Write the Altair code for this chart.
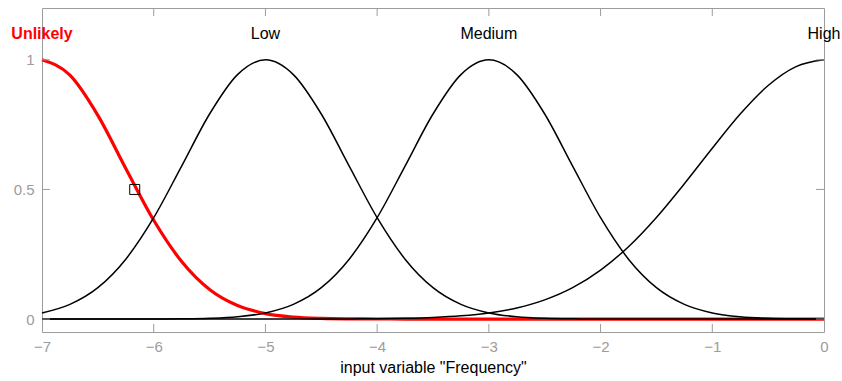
import altair as alt
import pandas as pd

# x positions (input variable "Frequency")
xs = [-7.0, -6.75, -6.5, -6.25, -6.0, -5.75, -5.5, -5.25, -5.0, -4.75, -4.5, -4.25,
      -4.0, -3.75, -3.5, -3.25, -3.0, -2.75, -2.5, -2.25, -2.0, -1.75, -1.5, -1.25,
      -1.0, -0.75, -0.5, -0.25, 0.0]

# membership values
unlikely = [1.0, 0.941, 0.786, 0.581, 0.381, 0.222, 0.114, 0.052, 0.0211, 0.0076,
            0.0024, 0.0007, 0.0002, 0.00004, 0, 0, 0, 0, 0, 0, 0, 0, 0, 0, 0, 0, 0, 0, 0]
low = [0.0235, 0.0565, 0.121, 0.231, 0.391, 0.590, 0.791, 0.943, 1.0, 0.943, 0.791,
       0.590, 0.391, 0.231, 0.121, 0.0565, 0.0235, 0.0087, 0.0028, 0.0008, 0.0002,
       0, 0, 0, 0, 0, 0, 0, 0]
medium = [0, 0, 0, 0, 0.0002, 0.0008, 0.0028, 0.0087, 0.0235, 0.0565, 0.121, 0.231,
          0.391, 0.590, 0.791, 0.943, 1.0, 0.943, 0.791, 0.590, 0.391, 0.231, 0.121,
          0.0565, 0.0235, 0.0087, 0.0028, 0.0008, 0.0002]
high = [0, 0, 0, 0, 0, 0, 0, 0.00001, 0.00003, 0.00008, 0.00022, 0.00054, 0.00127,
        0.00285, 0.00607, 0.0123, 0.0235, 0.0428, 0.074, 0.121, 0.189, 0.279, 0.392,
        0.522, 0.659, 0.791, 0.901, 0.974, 1.0]

label_names = ["Unlikely", "Low", "Medium", "High"]
label_x = [-7, -5, -3, 0]
label_colors = ["red", "black", "black", "black"]
label_weights = ["bold", "normal", "normal", "normal"]

x_ticks = [-7, -6, -5, -4, -3, -2, -1, 0]
x_inner_ticks = [-6, -5, -4, -3, -2, -1]
y_ticks = [0, 0.5, 1]

marker_x = [-6.17]
marker_y = [0.5]

XMIN, XMAX = -7, 0
YMIN, YMAX = -0.05, 1.2
FONT = "Liberation Sans"
GRAY = "#9c9c9c"

black_rows = []
for name, vals in [("Low", low), ("Medium", medium), ("High", high)]:
    for x, v in zip(xs, vals):
        black_rows.append({"x": x, "y": v, "mf": name})
black_df = pd.DataFrame(black_rows)
red_df = pd.DataFrame({"x": xs, "y": unlikely})

xscale = alt.Scale(domain=[XMIN, XMAX], nice=False, zero=False)
yscale = alt.Scale(domain=[YMIN, YMAX], nice=False, zero=False)

xenc = alt.X("x:Q", scale=xscale,
             axis=alt.Axis(values=x_ticks, format="~g", ticks=False, domain=False,
                           grid=False, labelColor=GRAY, labelFontSize=15,
                           labelFont=FONT, labelPadding=7, labelFlush=False,
                           labelOverlap=False,
                           title='input variable "Frequency"',
                           titleFont=FONT, titleFontSize=16, titleFontWeight="normal",
                           titleColor="black", titlePadding=5))
yenc = alt.Y("y:Q", scale=yscale,
             axis=alt.Axis(values=y_ticks, format="~g", ticks=False, domain=False,
                           grid=False, labelColor=GRAY, labelFontSize=15,
                           labelFont=FONT, labelPadding=8, labelFlush=False,
                           title=None))

red = alt.Chart(red_df).mark_line(color="red", strokeWidth=3.2,
                                  interpolate="monotone").encode(x=xenc, y=yenc)
black = alt.Chart(black_df).mark_line(color="black", strokeWidth=1.5,
                                      interpolate="monotone").encode(
    x=alt.X("x:Q", scale=xscale), y=alt.Y("y:Q", scale=yscale), detail="mf:N")

# inward tick marks on the frame
xt_df = pd.DataFrame({"t": x_inner_ticks})
yt_df = pd.DataFrame({"t": y_ticks})
tick_len_y = 8 / 259.2
tick_len_x = 8 / 111.71
bottom_ticks = alt.Chart(xt_df).mark_rule(color=GRAY, strokeWidth=1).encode(
    x=alt.X("t:Q", scale=xscale), y=alt.datum(YMIN), y2=alt.datum(YMIN + tick_len_y))
top_ticks = alt.Chart(xt_df).mark_rule(color=GRAY, strokeWidth=1).encode(
    x=alt.X("t:Q", scale=xscale), y=alt.datum(YMAX), y2=alt.datum(YMAX - tick_len_y))
left_ticks = alt.Chart(yt_df).mark_rule(color=GRAY, strokeWidth=1).encode(
    y=alt.Y("t:Q", scale=yscale), x=alt.datum(XMIN), x2=alt.datum(XMIN + tick_len_x))
right_ticks = alt.Chart(yt_df).mark_rule(color=GRAY, strokeWidth=1).encode(
    y=alt.Y("t:Q", scale=yscale), x=alt.datum(XMAX), x2=alt.datum(XMAX - tick_len_x))

marker = alt.Chart(pd.DataFrame({"x": marker_x, "y": marker_y})).mark_point(
    shape="square", size=100, filled=False, color="black", strokeWidth=1, opacity=1
).encode(x=alt.X("x:Q", scale=xscale), y=alt.Y("y:Q", scale=yscale))

lab_df = pd.DataFrame({"name": label_names, "x": label_x, "y": [1.1] * 4,
                       "c": label_colors, "w": label_weights})
labels_norm = alt.Chart(lab_df[lab_df.w == "normal"]).mark_text(
    fontSize=16, font=FONT, color="black", baseline="middle", align="center"
).encode(x=alt.X("x:Q", scale=xscale), y=alt.Y("y:Q", scale=yscale), text="name:N")
labels_bold = alt.Chart(lab_df[lab_df.w == "bold"]).mark_text(
    fontSize=16, font=FONT, color="red", fontWeight="bold", baseline="middle",
    align="center"
).encode(x=alt.X("x:Q", scale=xscale), y=alt.Y("y:Q", scale=yscale), text="name:N")

chart = alt.layer(
    red, black, bottom_ticks, top_ticks, left_ticks, right_ticks, marker,
    labels_norm, labels_bold
).properties(
    width=782, height=324,
    autosize=alt.AutoSizeParams(type="none"),
    padding={"left": 42, "top": 8, "right": 18, "bottom": 49},
    background="white",
).configure_view(stroke=GRAY, strokeWidth=1)

chart.save("out.html", embed_options={"renderer": "svg", "actions": False})
